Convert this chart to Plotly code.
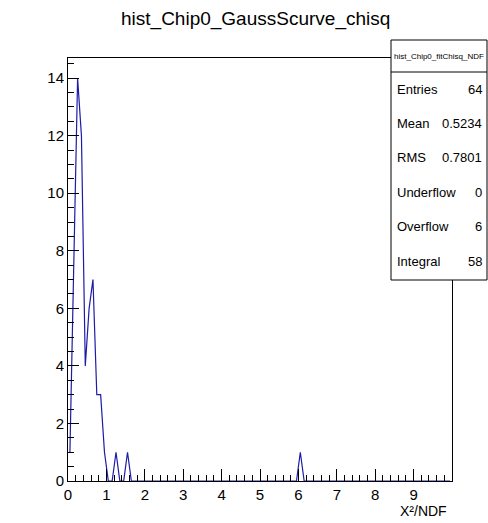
import numpy as np
import plotly.graph_objects as go

# Histogram: 100 bins from 0 to 10 (bin width 0.1)
bin_low, bin_high, n_bins = 0.0, 10.0, 100
counts = [
    1, 8, 14, 12, 4, 6, 7, 3, 3, 1,
    0, 0, 1, 0, 0, 1, 0, 0, 0, 0,
    0, 0, 0, 0, 0, 0, 0, 0, 0, 0,
    0, 0, 0, 0, 0, 0, 0, 0, 0, 0,
    0, 0, 0, 0, 0, 0, 0, 0, 0, 0,
    0, 0, 0, 0, 0, 0, 0, 0, 0, 0,
    1, 0, 0, 0, 0, 0, 0, 0, 0, 0,
    0, 0, 0, 0, 0, 0, 0, 0, 0, 0,
    0, 0, 0, 0, 0, 0, 0, 0, 0, 0,
    0, 0, 0, 0, 0, 0, 0, 0, 0, 0,
]
title_text = "hist_Chip0_GaussScurve_chisq"
stats_name = "hist_Chip0_fitChisq_NDF"
stats_labels = ["Entries", "Mean", "RMS", "Underflow", "Overflow", "Integral"]
stats_values = ["64", "0.5234", "0.7801", "0", "6", "58"]
x_title = "X²/NDF"

width = bin_high / n_bins
centers = bin_low + width * (np.arange(n_bins) + 0.5)

W, H = 488, 523
L, R, T, B = 68, 36, 58, 42
pw, ph = W - L - R, H - T - B

def px(x):
    return (x - L) / pw

def py(y):
    return (H - B - y) / ph

FONT = "Liberation Sans, Arial, sans-serif"
NARROW = "Liberation Sans Narrow, Liberation Sans, Arial, sans-serif"

fig = go.Figure()
fig.add_trace(go.Scatter(
    x=centers, y=counts, mode="lines",
    line=dict(color="#1c1ca8", width=1.2),
    hoverinfo="skip", showlegend=False,
))

fig.update_layout(
    width=W, height=H,
    margin=dict(l=L, r=R, t=T, b=B),
    paper_bgcolor="white", plot_bgcolor="white",
    showlegend=False,
)
fig.update_xaxes(
    range=[bin_low, bin_high], dtick=1, tick0=0,
    showgrid=False, zeroline=False,
    showline=True, linecolor="black", linewidth=1, mirror=True,
    ticks="inside", ticklen=12, tickcolor="black", tickwidth=1,
    minor=dict(dtick=0.2, ticks="inside", ticklen=6, tickcolor="black", showgrid=False),
    tickfont=dict(family=NARROW, size=15, color="black"),
    tickvals=list(range(0, 10)),
)
fig.update_yaxes(
    range=[0, 14.7], dtick=2, tick0=0,
    showgrid=False, zeroline=False,
    showline=True, linecolor="black", linewidth=1, mirror=True,
    ticks="inside", ticklen=11, tickcolor="black", tickwidth=1,
    minor=dict(dtick=0.5, ticks="inside", ticklen=6, tickcolor="black", showgrid=False),
    tickfont=dict(family=NARROW, size=15, color="black"),
)

# Title
fig.add_annotation(text=title_text, xref="paper", yref="paper",
                   x=px(255), y=py(19), xanchor="center", yanchor="middle",
                   showarrow=False, font=dict(family=FONT, size=19, color="black"))
# X axis title
fig.add_annotation(text=x_title, xref="paper", yref="paper",
                   x=px(449), y=py(511), xanchor="right", yanchor="middle",
                   showarrow=False, font=dict(family=NARROW, size=14, color="black"))

# Stats box
bx0, bx1, by0, by1, bhead = 391, 487, 40, 280, 72
fig.add_shape(type="rect", xref="paper", yref="paper",
              x0=px(bx0), x1=px(bx1), y0=py(by1), y1=py(by0),
              line=dict(color="black", width=1), fillcolor="white", layer="above")
fig.add_shape(type="line", xref="paper", yref="paper",
              x0=px(bx0), x1=px(bx1), y0=py(bhead), y1=py(bhead),
              line=dict(color="black", width=1), layer="above")
fig.add_annotation(text=stats_name, xref="paper", yref="paper",
                   x=px((bx0 + bx1) / 2), y=py(56), xanchor="center", yanchor="middle",
                   showarrow=False, font=dict(family=NARROW, size=8, color="black"))
row_y = [89, 123, 157, 192, 226, 261]
for lab, val, yy in zip(stats_labels, stats_values, row_y):
    fig.add_annotation(text=lab, xref="paper", yref="paper",
                       x=px(395), y=py(yy), xanchor="left", yanchor="middle",
                       showarrow=False, font=dict(family=NARROW, size=13, color="black"))
    fig.add_annotation(text=val, xref="paper", yref="paper",
                       x=px(484), y=py(yy), xanchor="right", yanchor="middle",
                       showarrow=False, font=dict(family=NARROW, size=13, color="black"))

fig.write_html("out.html")
